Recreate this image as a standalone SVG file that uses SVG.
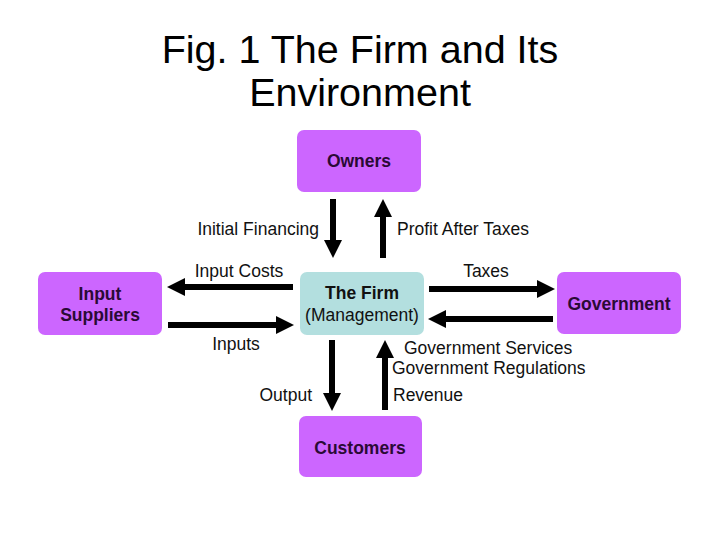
<svg xmlns="http://www.w3.org/2000/svg" width="720" height="540" viewBox="0 0 720 540">
<style>
.title{font-family:"Liberation Sans",Arial,sans-serif;font-size:39.5px;fill:#000;text-anchor:middle}
.purple{fill:#cc66ff}
.firm{fill:#b3dfdf}
.nl{font-family:"Liberation Sans",Arial,sans-serif;font-size:17.5px;font-weight:bold;fill:#2a0a35;text-anchor:middle}
.lab{font-family:"Liberation Sans",Arial,sans-serif;font-size:17.5px;fill:#111}
.arr{stroke:#000;stroke-width:6;fill:none;marker-end:url(#head)}
</style>
<defs>
<marker id="head" markerUnits="userSpaceOnUse" markerWidth="18" markerHeight="18" viewBox="0 0 18 18" refX="0" refY="9" orient="auto">
<path d="M0,0 L18,9 L0,18 Z" fill="#000"/>
</marker>
</defs>
<rect width="720" height="540" fill="#fff"/>
<text class="title" x="360" y="63">Fig. 1 The Firm and Its</text>
<text class="title" x="360" y="106">Environment</text>

<g id="owners">
<rect class="purple" x="297" y="130" width="124" height="62" rx="7"/>
<text class="nl" x="359" y="167">Owners</text>
</g>
<g id="suppliers">
<rect class="purple" x="38" y="272" width="124" height="63" rx="7"/>
<text class="nl" x="100" y="300">Input</text>
<text class="nl" x="100" y="321">Suppliers</text>
</g>
<g id="firm">
<rect class="firm" x="300" y="272" width="124" height="63" rx="7"/>
<text class="nl" x="362" y="299" style="fill:#111">The Firm</text>
<text class="lab" x="362" y="321" text-anchor="middle">(Management)</text>
</g>
<g id="government">
<rect class="purple" x="557" y="272" width="124" height="62" rx="7"/>
<text class="nl" x="619" y="310">Government</text>
</g>
<g id="customers">
<rect class="purple" x="299" y="416" width="123" height="61" rx="7"/>
<text class="nl" x="360" y="454">Customers</text>
</g>

<g id="connectors">
<line class="arr" x1="333" y1="199" x2="333" y2="240"/>
<line class="arr" x1="383" y1="258" x2="383" y2="217"/>
<line class="arr" x1="293" y1="287" x2="185" y2="287"/>
<line class="arr" x1="168" y1="325" x2="276" y2="325"/>
<line class="arr" x1="429" y1="289" x2="537" y2="289"/>
<line class="arr" x1="553" y1="319" x2="446" y2="319"/>
<line class="arr" x1="332" y1="340" x2="332" y2="393"/>
<line class="arr" x1="385" y1="410" x2="385" y2="358"/>
</g>

<g id="labels">
<text class="lab" x="319" y="235" text-anchor="end">Initial Financing</text>
<text class="lab" x="397" y="235">Profit After Taxes</text>
<text class="lab" x="239" y="277" text-anchor="middle">Input Costs</text>
<text class="lab" x="486" y="277" text-anchor="middle">Taxes</text>
<text class="lab" x="236" y="350" text-anchor="middle">Inputs</text>
<text class="lab" x="404" y="354">Government Services</text>
<text class="lab" x="392" y="374">Government Regulations</text>
<text class="lab" x="312" y="401" text-anchor="end">Output</text>
<text class="lab" x="393" y="401">Revenue</text>
</g>
</svg>
